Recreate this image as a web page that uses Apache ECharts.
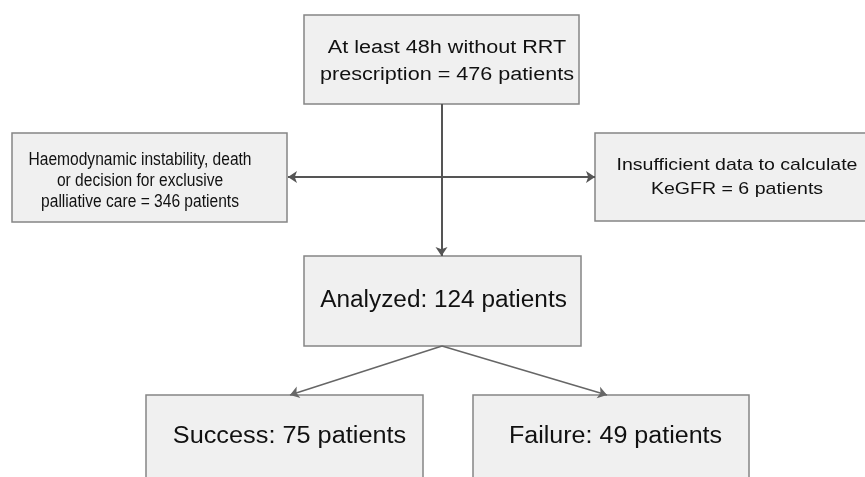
<!DOCTYPE html>
<html>
<head>
<meta charset="utf-8">
<script src="https://cdn.jsdelivr.net/npm/echarts@6/dist/echarts.min.js"></script>
<style>html,body{margin:0;padding:0;background:#fff;}#c{width:865px;height:477px;}</style>
</head>
<body>
<div id="c"></div>
<script>
// ---- content ----
const boxLabels = [
  'At least 48h without RRT\nprescription = 476 patients',
  'Haemodynamic instability, death\nor decision for exclusive\npalliative care = 346 patients',
  'Insufficient data to calculate\nKeGFR = 6 patients',
  'Analyzed: 124 patients',
  'Success: 75 patients',
  'Failure: 49 patients'
];
const patientCounts = [476, 346, 6, 124, 75, 49];
// flow links: [from, to]; -1 = junction on the main vertical line
const links = [[0, 3], [-1, 1], [-1, 2], [3, 4], [3, 5]];

// ---- layout (pixel space of the 865x477 canvas) ----
const boxRect = [
  [304, 15, 579, 104],
  [12, 133, 287, 222],
  [595, 133, 872, 221],
  [304, 256, 581, 346],
  [146, 395, 423, 482],
  [473, 395, 749, 482]
];
const textPos = [[447, 62], [140, 181], [737, 177.5], [443.5, 301], [289.5, 437], [615.5, 437]];
const textFont = [[18, 27, 1.2], [17.5, 21, 0.89], [17, 24, 1.15], [23, 28, 1.06], [23, 28, 1.1], [23, 28, 1.09]];

const plainSegments = [
  { coords: [[441.5, 104], [441.5, 177]] }
];
const arrowSegments = [
  { coords: [[441.5, 177], [441.5, 256]] },
  { coords: [[441.5, 177], [288, 177]] },
  { coords: [[441.5, 177], [595, 177]] }
];
const diagSegments = [
  { coords: [[442, 346], [290, 395]] },
  { coords: [[442, 346], [607, 395]] }
];

const chart = echarts.init(document.getElementById('c'));
chart.setOption({
  backgroundColor: '#ffffff',
  animation: false,
  grid: { left: 0, right: 0, top: 0, bottom: 0 },
  xAxis: { type: 'value', min: 0, max: 865, show: false },
  yAxis: { type: 'value', min: 0, max: 477, inverse: true, show: false },
  series: [
    {
      type: 'custom',
      coordinateSystem: 'cartesian2d',
      clip: false,
      data: boxLabels.map((l, i) => [i, patientCounts[i]]),
      renderItem: function (params, api) {
        const i = params.dataIndex;
        const r = boxRect[i];
        const p1 = api.coord([r[0], r[1]]);
        const p2 = api.coord([r[2], r[3]]);
        const tp = api.coord(textPos[i]);
        const f = textFont[i];
        return {
          type: 'group',
          children: [
            {
              type: 'rect',
              shape: { x: p1[0], y: p1[1], width: p2[0] - p1[0], height: p2[1] - p1[1] },
              style: { fill: '#f0f0f0', stroke: '#858585', lineWidth: 1.5 }
            },
            {
              type: 'text',
              x: tp[0], y: tp[1],
              scaleX: f[2],
              style: {
                text: boxLabels[i],
                fontFamily: '"Liberation Sans", Arial, sans-serif',
                fontSize: f[0],
                lineHeight: f[1],
                align: 'center',
                verticalAlign: 'middle',
                fill: '#111111'
              }
            }
          ]
        };
      }
    },
    {
      type: 'lines',
      coordinateSystem: 'cartesian2d',
      symbol: ['none', 'none'],
      lineStyle: { color: '#555555', width: 2, opacity: 1 },
      data: plainSegments,
      z: 3
    },
    {
      type: 'lines',
      coordinateSystem: 'cartesian2d',
      symbol: ['none', 'arrow'],
      symbolSize: [7, 9],
      lineStyle: { color: '#555555', width: 2, opacity: 1 },
      data: arrowSegments,
      z: 3
    },
    {
      type: 'lines',
      coordinateSystem: 'cartesian2d',
      symbol: ['none', 'arrow'],
      symbolSize: [7, 9],
      lineStyle: { color: '#666666', width: 1.5, opacity: 1 },
      data: diagSegments,
      z: 3
    }
  ]
});
</script>
</body>
</html>
